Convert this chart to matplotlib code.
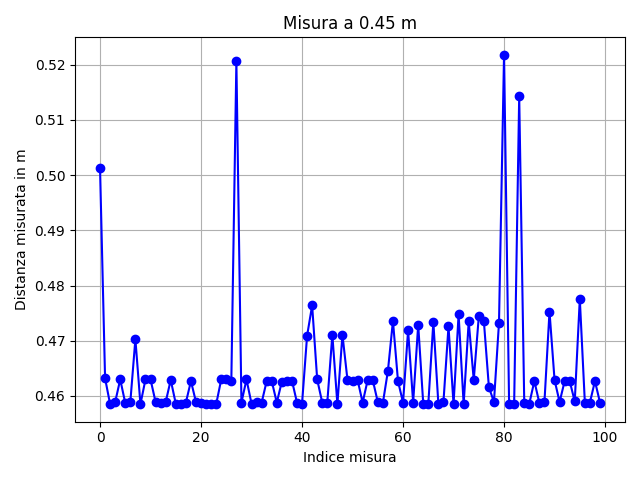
import matplotlib.pyplot as plt

distanze = [
    0.5013, 0.4632, 0.4585, 0.4589, 0.4630, 0.4587, 0.4589, 0.4703, 0.4585, 0.4630,
    0.4630, 0.4589, 0.4588, 0.4589, 0.4629, 0.4586, 0.4586, 0.4588, 0.4627, 0.4589,
    0.4588, 0.4585, 0.4585, 0.4585, 0.4630, 0.4630, 0.4628, 0.5206, 0.4588, 0.4630,
    0.4586, 0.4589, 0.4588, 0.4627, 0.4627, 0.4588, 0.4626, 0.4628, 0.4628, 0.4588,
    0.4586, 0.4709, 0.4764, 0.4630, 0.4588, 0.4588, 0.4711, 0.4585, 0.4711, 0.4629,
    0.4628, 0.4629, 0.4588, 0.4629, 0.4629, 0.4589, 0.4587, 0.4645, 0.4736, 0.4627,
    0.4588, 0.4719, 0.4588, 0.4729, 0.4586, 0.4585, 0.4734, 0.4585, 0.4589, 0.4726,
    0.4585, 0.4748, 0.4585, 0.4735, 0.4629, 0.4744, 0.4736, 0.4616, 0.4589, 0.4733,
    0.5218, 0.4586, 0.4586, 0.5143, 0.4588, 0.4586, 0.4627, 0.4587, 0.4589, 0.4753,
    0.4629, 0.4589, 0.4627, 0.4627, 0.4590, 0.4776, 0.4588, 0.4588, 0.4627, 0.4588,
]

fig, ax = plt.subplots(figsize=(6.4, 4.8), dpi=100)
ax.plot(range(len(distanze)), distanze, "bo-")
ax.set_title("Misura a 0.45 m")
ax.set_xlabel("Indice misura")
ax.set_ylabel("Distanza misurata in m")
ax.grid(True)
plt.tight_layout()
plt.savefig("out.png")
